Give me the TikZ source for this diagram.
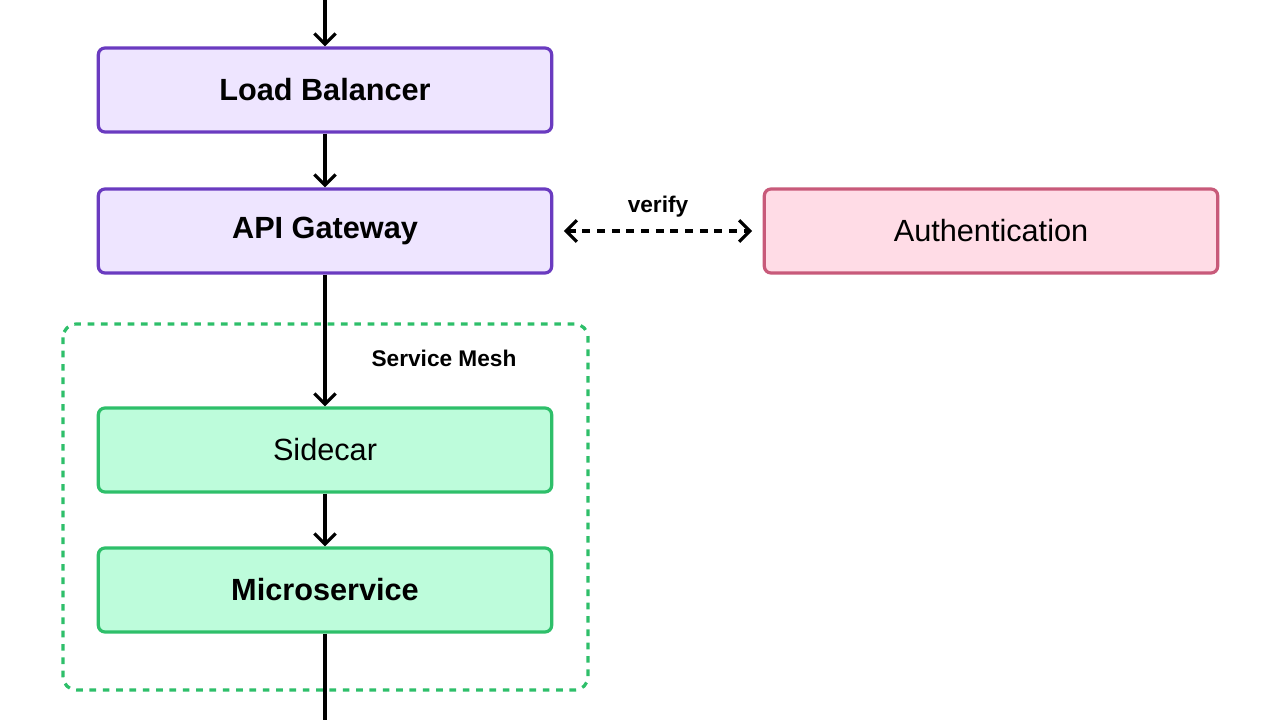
\documentclass[tikz,border=0pt]{standalone}
\usepackage{fontspec}
\setmainfont{Liberation Sans}
\usetikzlibrary{arrows.meta}
\definecolor{pf}{HTML}{EEE5FF}\definecolor{pd}{HTML}{6A3BC0}
\definecolor{rf}{HTML}{FFDCE6}\definecolor{rd}{HTML}{C85A7A}
\definecolor{gf}{HTML}{BDFCDB}\definecolor{gd}{HTML}{2EBF6A}
\begin{document}
\begin{tikzpicture}[x=0.75pt,y=-0.75pt,
 >={Straight Barb[length=8pt,width=16pt,line width=2.4pt]},
 box/.style={draw,line width=2.4pt,rounded corners=5pt,minimum width=340pt,minimum height=63pt,inner sep=0pt,font=\fontsize{23}{27}\selectfont},
 pbox/.style={box,fill=pf,draw=pd,font=\fontsize{23}{27}\selectfont\bfseries},
 rbox/.style={box,fill=rf,draw=rd},
 gbox/.style={box,fill=gf,draw=gd},
 arr/.style={line width=2.4pt,->},
 lbl/.style={font=\fontsize{17}{20}\selectfont\bfseries}]
\clip (0,0) rectangle (1280,720);
\useasboundingbox (0,0) rectangle (1280,720);
\draw[gd,line width=2.4pt,dash pattern=on 5pt off 5pt,rounded corners=10pt] (63,324) rectangle (588,690);
\node[pbox] (lb) at (325,90) {Load Balancer};
\node[pbox] (gw) at (325,231) {API Gateway};
\node[rbox] (au) at (991,231) {Authentication};
\node[gbox] (sc) at (325,450) {Sidecar};
\node[gbox,font=\fontsize{23}{27}\selectfont\bfseries] (ms) at (325,590) {Microservice};
\coordinate (top) at (325,-20);
\coordinate (bot) at (325,735);
\draw[arr] (top) -- (lb);
\draw[arr] (lb) -- (gw);
\draw[arr] (gw) -- (sc);
\draw[arr] (sc) -- (ms);
\draw[arr] (ms) -- (bot);
\draw[line width=2.4pt,dash pattern=on 6pt off 5pt,<->] ([xshift=8pt]gw.east) -- ([xshift=-8pt]au.west) node[midway,lbl,above=6pt] {verify};
\node[lbl] (sm) at (444,358) {Service Mesh};
\end{tikzpicture}
\end{document}
